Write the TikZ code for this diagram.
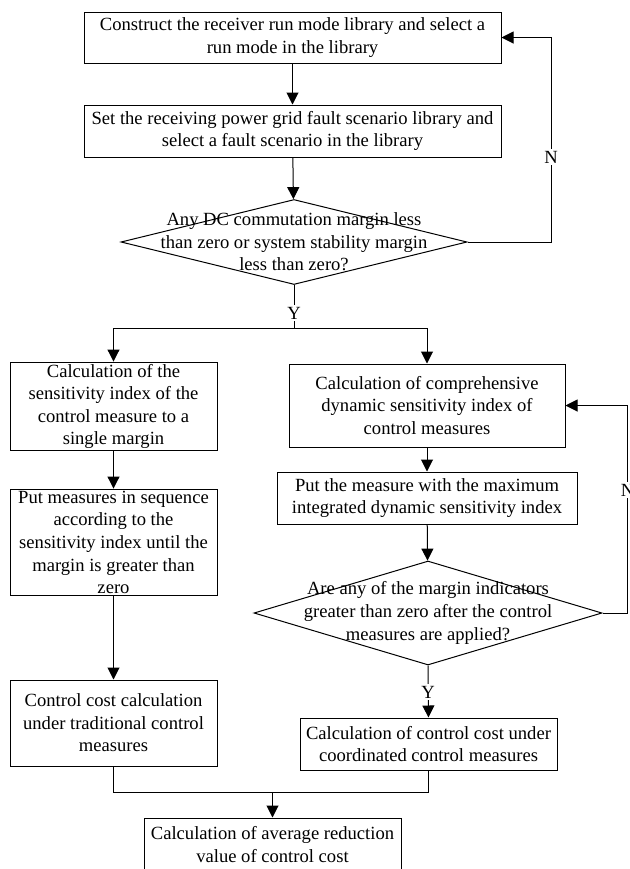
\documentclass[tikz,border=0pt]{standalone}
\usepackage{fontspec}
\setmainfont{Liberation Serif}
\usetikzlibrary{positioning,arrows.meta,shapes.geometric,calc}
\tikzset{
  fbox/.style ={rectangle, draw=black, fill=white, align=center, inner sep=1pt,
                line width=0.5pt, font=\fontsize{9.3}{11.3}\selectfont},
  dbox/.style ={diamond, draw=black, fill=white, inner sep=0pt, line width=0.5pt},
  dtext/.style={align=center, inner sep=0pt, font=\fontsize{9.3}{11.3}\selectfont},
  arr/.style  ={-{Triangle[length=6pt,width=6pt]}, line width=0.5pt},
  ln/.style   ={line width=0.5pt},
  yn/.style   ={fill=white, inner sep=1pt, font=\fontsize{9.3}{11.3}\selectfont},
}
\begin{document}
\begin{tikzpicture}[x=0.5pt,y=-0.5pt]
  \useasboundingbox (0,0) rectangle (630,869);
  % main column
  \node[fbox, minimum width=208.5pt, minimum height=25.5pt] (mode) at (292.5,37.5)
    {Construct the receiver run mode library and select a\\run mode in the library};
  \node[fbox, minimum width=208.5pt, minimum height=26pt] (fault) at (292.5,131)
    {Set the receiving power grid fault scenario library and\\select a fault scenario in the library};
  \node[dbox, minimum width=173pt, minimum height=42.5pt] (chk) at (294,242) {};
  \node[dtext] (chkt) at (chk) {Any DC commutation margin less\\than zero or system stability margin\\less than zero?};
  % left branch
  \node[fbox, minimum width=103.5pt, minimum height=42.5pt] (sens) at (113.5,406.5)
    {Calculation of the\\sensitivity index of the\\control measure to a\\single margin};
  \node[fbox, minimum width=103.5pt, minimum height=52.5pt] (seq) at (113.5,542.5)
    {Put measures in sequence\\according to the\\sensitivity index until the\\margin is greater than\\zero};
  \node[fbox, minimum width=103.5pt, minimum height=43pt] (tcost) at (113.5,723)
    {Control cost calculation\\under traditional control\\measures};
  % right branch
  \node[fbox, minimum width=138pt, minimum height=41.5pt] (dsens) at (427,405.5)
    {Calculation of comprehensive\\dynamic sensitivity index of\\control measures};
  \node[fbox, minimum width=150pt, minimum height=26pt] (pick) at (427,498)
    {Put the measure with the maximum\\integrated dynamic sensitivity index};
  \node[dbox, minimum width=174pt, minimum height=52pt] (ind) at (428,613) {};
  \node[dtext] (indt) at (ind) {Are any of the margin indicators\\greater than zero after the control\\measures are applied?};
  \node[fbox, minimum width=128.5pt, minimum height=26pt] (ccost) at (428.5,744)
    {Calculation of control cost under\\coordinated control measures};
  % result
  \node[fbox, minimum width=128.5pt, minimum height=26.5pt] (avg) at (272.5,844.5)
    {Calculation of average reduction\\value of control cost};

  \coordinate (split) at (294,328);
  \coordinate (back1) at (551,37.5);
  \coordinate (back2) at (627.5,405.5);
  \coordinate (merge) at (272.5,792);

  \draw[arr] (mode) -- (fault);
  \draw[arr] (fault) -- (chk);
  \draw[ln]  (chk.south) -- (split);
  \draw[arr] (split) -| (sens.north);
  \draw[arr] (split) -| (dsens.north);
  \draw[arr] (chk.east) -| (back1) -- (mode.east);
  \draw[arr] (sens) -- (seq);
  \draw[arr] (seq) -- (tcost);
  \draw[arr] (dsens) -- (pick);
  \draw[arr] (pick) -- (ind);
  \draw[arr] (ind.east) -| (back2) -- (dsens.east);
  \draw[arr] (ind.south) -- (ccost.north);
  \draw[ln]  (tcost.south) |- (merge);
  \draw[ln]  (ccost.south) |- (merge);
  \draw[arr] (merge) -- (avg.north);

  \node[yn] (y1) at (294,313) {Y};
  \node[yn] (n1) at (551,157) {N};
  \node[yn] (y2) at (428,692) {Y};
  \node[yn] (n2) at (627.5,490) {N};
\end{tikzpicture}
\end{document}
